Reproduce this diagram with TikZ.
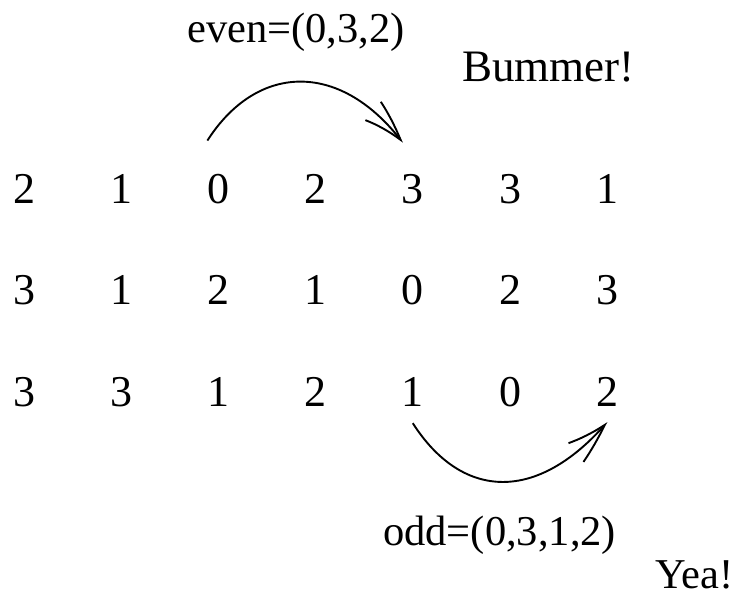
\documentclass[tikz,border=0pt]{standalone}
\usepackage{fontspec}
\setmainfont{Liberation Serif}
\usetikzlibrary{arrows.meta, bending}

\begin{document}
\begin{tikzpicture}[
      x=1pt, y=-1pt,
      digit/.style={anchor=base, inner sep=2pt, font=\fontsize{44}{48}\selectfont},
      note/.style={anchor=base west, inner sep=0pt, font=\fontsize{42.5}{46}\selectfont},
      arrow/.style={-{Straight Barb[length=43pt, width=24pt, bend]}, line width=1.9pt}
    ]
    \useasboundingbox (0,0) rectangle (742,596);

    \foreach \row [count=\r] in {{2,1,0,2,3,3,1},{3,1,2,1,0,2,3},{3,3,1,2,1,0,2}}
      \foreach \d [count=\c] in \row
        \node[digit] (d\r\c) at ({24+97.2*(\c-1)}, {204+101*(\r-1)}) {\d};

    \node[note] (even) at (187,43) {even=(0,3,2)};
    \node[note, font=\fontsize{45}{48}\selectfont] (bummer) at (462,82) {Bummer!};
    \node[note] (odd) at (383,545) {odd=(0,3,1,2)};
    \node[note] (yea) at (655,588) {Yea!};

    \draw[arrow] ([shift={(-11,-32)}]d13.north) .. controls +(50,-78) and +(-62,-82) .. ([shift={(-10,-30)}]d15.north);
    \draw[arrow] ([shift={(0,15)}]d35.south) .. controls +(48,75) and +(-72,83) .. ([shift={(0,14)}]d37.south);
  \end{tikzpicture}
\end{document}
